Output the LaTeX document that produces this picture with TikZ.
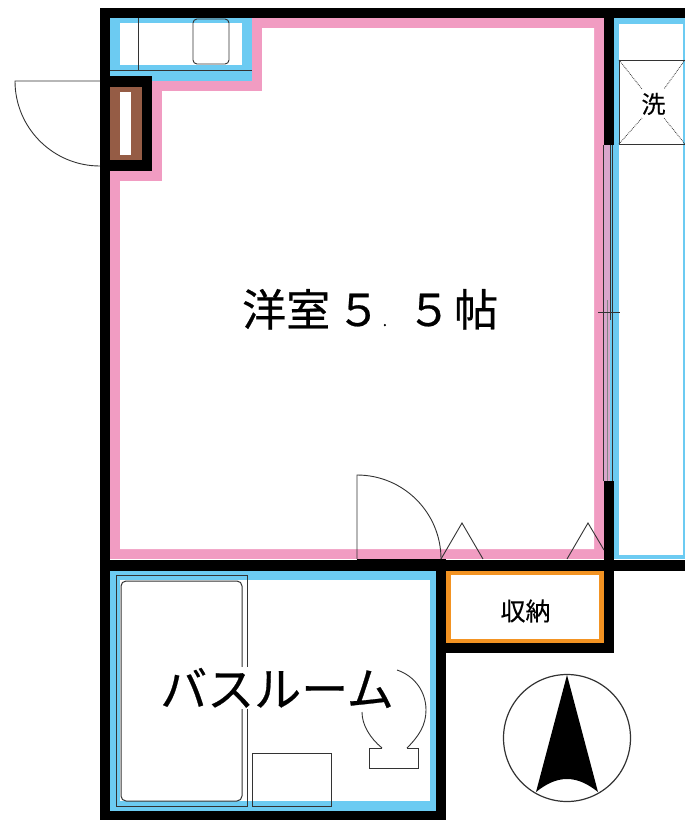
\documentclass[tikz,border=0pt]{standalone}
\usepackage{fontspec}
\newfontfamily\cjk[FakeBold=0.5]{Noto Sans CJK JP}
\newfontfamily\cjksm[FakeBold=0.25]{Noto Sans CJK JP}
\definecolor{wallblue}{HTML}{6CCBF2}
\definecolor{wallpink}{HTML}{F19CC2}
\definecolor{wallbrown}{HTML}{955C45}
\definecolor{wallorange}{HTML}{F39322}
\definecolor{sashpink}{HTML}{D9A6CC}
\definecolor{linegrey}{HTML}{333333}
\tikzset{
  wall/.style={fill=black,draw=none},
  thin line/.style={draw=linegrey,line width=0.9pt},
  label big/.style={font=\cjk\fontsize{44}{44}\selectfont,inner sep=0pt},
  label small/.style={font=\cjksm\fontsize{25}{25}\selectfont,inner sep=0pt}
}
\begin{document}
\begin{tikzpicture}[x=1pt,y=-1pt]
\useasboundingbox (0,0) rectangle (685,820);
% main room
\fill[wallpink] (110,18) rectangle (604,559);
\fill[white] (262,28) -- (594,28) -- (594,549) -- (120,549) -- (120,181) -- (162,181) -- (162,91) -- (262,91) -- cycle;
% kitchen
\fill[wallblue] (110,18) rectangle (252,81);
\fill[white] (120,23) rectangle (242,65);
\draw[thin line] (138,18) -- (138,70);
\draw[thin line] (110,70) -- (252,70);
\draw[thin line,rounded corners=4pt] (193,19) rectangle (229,64);
% balcony
\fill[wallblue] (614,18) rectangle (685,559);
\fill[white] (619,24) rectangle (683,555);
% washer
\draw[thin line] (687,60) -- (619,60) -- (619,144) -- (687,144);
\draw[linegrey,densely dotted,line width=0.8pt] (619,60) -- (642,89) (685,60) -- (664,89) (619,144) -- (642,118) (685,144) -- (664,118);
\node[label small,font=\cjksm\fontsize{24}{24}\selectfont] (washer) at (653.5,104) {洗};
% bath
\fill[wallblue] (110,570) rectangle (436,811);
\fill[white] (120,580) rectangle (430,801);
\draw[thin line] (116,575) rectangle (247,806);
\draw[draw=linegrey,line width=1pt,fill=white,rounded corners=5pt] (121,581) rectangle (242,801);
\draw[thin line] (252,753) rectangle (331,806);
% toilet
\draw[thin line] (382,748) -- (369,748) -- (369,768) -- (418,768) -- (418,748) -- (407,748);
\draw[thin line] (397,670) .. controls (415,676) and (426,692) .. (426,710) .. controls (426,725) and (419,736) .. (407,748);
\draw[thin line] (362,712) .. controls (362,725) and (370,738) .. (382,748);
% storage
\fill[wallorange] (446,571) rectangle (604,643);
\fill[white] (451,575) rectangle (599,639);
\node[label small] (storage) at (525.5,611) {収納};
% walls
\fill[wall] (100,8) rectangle (685,18);
\fill[wall] (100,8) rectangle (110,820);
\fill[wall] (604,8) rectangle (614,145);
\fill[wall] (604,481) rectangle (614,653);
\fill[wall] (100,560) rectangle (685,570.5);
\fill[wall] (357,559) rectangle (446,571);
\fill[wall] (604,559) rectangle (614,571);
\fill[wall] (436,570) rectangle (446,820);
\fill[wall] (446,643) rectangle (614,653);
\fill[wall] (110,811) rectangle (436,820);
% pipe shaft
\fill[wall] (100,76) rectangle (152,171);
\fill[wallbrown] (110,87) rectangle (142,160);
\fill[white] (120,92) rectangle (131,155);
% sliding window
\fill[sashpink] (604,145) rectangle (610,481);
\fill[wallblue] (610,145) rectangle (614,481);
\draw[draw=linegrey,line width=0.6pt] (603.5,145) -- (603.5,481);
\draw[draw=linegrey,line width=0.6pt] (610,145) -- (610,320);
\draw[draw=linegrey!60,line width=0.5pt] (607,300) -- (607,481);
\draw[draw=linegrey,line width=0.6pt] (612,145) -- (612,481);
\draw[draw=linegrey,line width=0.7pt] (598,312) -- (620,312);
% doors
\draw[thin line] (100,81) -- (15,81) arc[start angle=180,end angle=90,radius=85];
\draw[thin line] (357,559) -- (357,475) arc[start angle=-90,end angle=0,radius=84];
% door swing marks
\draw[thin line] (441,559) -- (462,523) -- (483,559);
\draw[thin line] (567,559) -- (588,523) -- (604,550);
% labels
\node[label big,anchor=base west] (room) at (242,326) {洋室\kern6.5pt ５\kern2pt{\fontsize{16}{16}\selectfont .}\kern20pt ５\kern3pt 帖};
\node[font=\cjk\fontsize{47}{47}\selectfont,fill=white,inner xsep=0pt,inner ysep=1pt] (bath) at (277,688) {バスルーム};
% compass
\draw[thin line,line width=1.2pt] (567,738) circle[radius=63.5];
\fill[black] (567,675) -- (598,792) .. controls (588,784) and (578,779) .. (567,779) .. controls (556,779) and (546,784) .. (536,792) -- cycle;
\end{tikzpicture}
\end{document}
